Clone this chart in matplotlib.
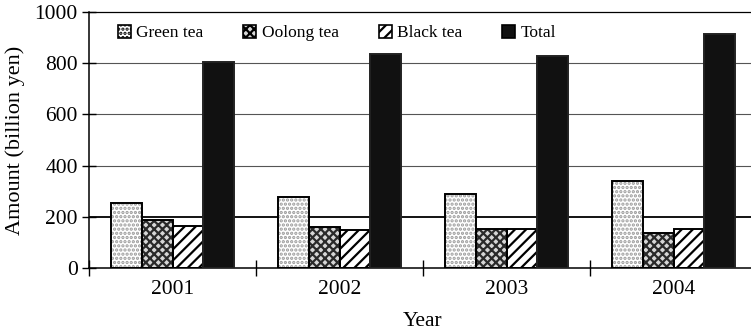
import numpy as np
import matplotlib
matplotlib.use("Agg")
import matplotlib.pyplot as plt
from matplotlib.patches import Patch

plt.rcParams['font.family'] = ['Liberation Serif', 'DejaVu Serif']
plt.rcParams['hatch.linewidth'] = 1.6

# data (billion yen)
years = ['2001', '2002', '2003', '2004']
green_tea = [253, 279, 288, 340]
oolong_tea = [186, 162, 151, 137]
black_tea = [164, 148, 151, 152]
total = [803, 836, 828, 914]

series = [green_tea, oolong_tea, black_tea, total]
names = ['Green tea', 'Oolong tea', 'Black tea', 'Total']
faces = ['white', '#d6d6d6', 'white', '#111111']
hatch_col = ['#9a9a9a', '#2a2a2a', 'black', '#111111']
hatches = ['....', 'xxxx', '///', None]

fig = plt.figure(figsize=(7.51, 3.30), dpi=100)
ax = fig.add_axes([89 / 751, 62 / 330, 668 / 751, 256 / 330])

x = np.arange(len(years))
w = 0.184
for i, vals in enumerate(series):
    pos = x + (i - 1.5) * w
    ax.bar(pos, vals, w, color=faces[i], edgecolor=hatch_col[i], hatch=hatches[i],
           linewidth=0, zorder=2)
    ax.bar(pos, vals, w, facecolor='none', edgecolor='#222222' if i == 3 else 'black',
           linewidth=1.4, zorder=3)

# grid lines
for g in [400, 600, 800]:
    ax.axhline(g, color='#555555', linewidth=0.8, zorder=1)
ax.axhline(200, color='black', linewidth=1.3, zorder=1)

ax.set_xlim(-0.5, 3.5)
ax.set_ylim(0, 1000)
ax.set_yticks(range(0, 1001, 200))
ax.set_xticks(np.arange(-0.5, 3.0, 1.0))
ax.set_xticklabels([])
ax.set_xticks(x, minor=True)
ax.set_xticklabels(years, minor=True)
ax.tick_params(axis='x', which='major', direction='inout', length=12, width=1)
ax.tick_params(axis='x', which='minor', length=0, pad=9, labelsize=15.5)
ax.tick_params(axis='y', direction='inout', length=10, width=1, labelsize=15.5, pad=3)

ax.spines['right'].set_visible(False)
for s in ['left', 'bottom', 'top']:
    ax.spines[s].set_linewidth(1.1)
ax.spines['top'].set_linewidth(0.9)

ax.set_xlabel('Year', fontsize=15.5, labelpad=9)
ax.set_ylabel('Amount (billion yen)', fontsize=16, labelpad=4)
ax.yaxis.set_label_coords(-64 / 668, 0.5)

handles = [Patch(facecolor=faces[i], edgecolor='black', hatch=hatches[i], linewidth=1.2)
           for i in range(4)]
fig.legend(handles, names, loc='center left', bbox_to_anchor=(118 / 751, 1 - 33 / 330),
           ncol=4, frameon=False, fontsize=12.5, handlelength=0.75, handleheight=0.75,
           handletextpad=0.3, columnspacing=2.3, borderaxespad=0, borderpad=0)

fig.savefig('out.png', dpi=100)
